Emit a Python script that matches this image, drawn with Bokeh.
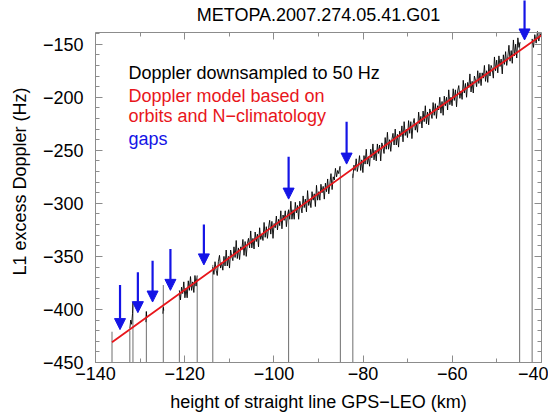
import numpy as np
from bokeh.plotting import figure
from bokeh.models import (ColumnDataSource, Range1d, LinearAxis, SingleIntervalTicker,
                          Arrow, NormalHead, Label, CustomJSTickFormatter,
                          CustomLabelingPolicy)
from bokeh.embed import file_html
from bokeh.resources import INLINE

# ---------------- data ----------------
title_text = "METOPA.2007.274.05.41.G01"

# Doppler downsampled to 50 Hz: separate pieces between gaps
frag1_x = [-132.3, -132.1, -131.9, -131.7, -131.6]
frag1_y = [-418, -410, -414, -404, -393]
frag2_x = [-128.7, -128.6, -128.5]
frag2_y = [-412, -402, -408]
frag3_x = [-124.9, -124.8, -124.7]
frag3_y = [-404, -398, -401]
seg1_x = list(np.round(np.arange(-121.2, -117.15, 0.25), 2))
seg1_y = [-382, -391, -379, -385, -374, -389, -380, -389, -373, -382,
          -369, -382, -374, -384, -368, -378, -368]
seg2_x = list(np.round(np.arange(-113.7, -85.15, 0.25), 2))
seg2_y = [-360, -367, -355, -363, -368, -355, -349, -361, -356, -363,
          -350, -359, -344, -359, -350, -361, -344, -350, -354, -341,
          -351, -335, -352, -342, -353, -341, -344, -334, -349, -336,
          -350, -338, -333, -342, -326, -342, -333, -343, -327, -336,
          -329, -341, -323, -334, -329, -335, -318, -332, -322, -333,
          -323, -316, -329, -317, -333, -319, -323, -312, -325, -315,
          -321, -307, -324, -311, -316, -307, -322, -311, -306, -315,
          -298, -315, -306, -315, -299, -309, -302, -315, -298, -303,
          -309, -293, -304, -296, -308, -288, -302, -296, -304, -289,
          -297, -291, -303, -283, -297, -289, -297, -282, -290, -284,
          -296, -281, -289, -277, -291, -282, -272, -287, -275, -278,
          -267, -275, -269, -272, -265]
seg3_x = list(np.round(np.arange(-82.3, -44.75, 0.25), 2))
seg3_y = [-276, -264, -269, -258, -270, -264, -255, -269, -259, -271,
          -255, -263, -249, -263, -256, -265, -249, -257, -244, -259,
          -250, -260, -244, -253, -245, -260, -243, -247, -253, -238,
          -249, -233, -249, -240, -251, -240, -234, -245, -230, -245,
          -235, -247, -232, -237, -227, -242, -223, -236, -230, -238,
          -222, -234, -223, -239, -225, -220, -231, -225, -233, -214,
          -225, -218, -229, -213, -223, -208, -225, -214, -226, -211,
          -215, -220, -205, -217, -206, -220, -208, -212, -200, -215,
          -204, -217, -199, -208, -200, -212, -193, -207, -200, -208,
          -192, -203, -193, -209, -194, -189, -201, -194, -202, -184,
          -196, -187, -200, -186, -191, -178, -195, -185, -196, -180,
          -184, -190, -175, -187, -177, -189, -177, -182, -170, -185,
          -175, -186, -169, -180, -170, -173, -182, -162, -175, -165,
          -177, -161, -171, -164, -178, -160, -169, -157, -170, -162,
          -151, -166, -156, -168, -146, -161, -150, -163, -144, -153,
          -148]
seg4_x = [-42.1, -41.8, -41.5, -41.2, -40.9, -40.6, -40.3, -40.0]
seg4_y = [-145, -153, -141, -149, -138, -147, -140, -144]

# Doppler model based on orbits and N-climatology
model_x = [-136.3, -100.0, -76.1, -40.0]
model_y = [-431.0, -321.0, -248.5, -141.5]

# gap markers (vertical lines from the bottom of the axis)
gap_x = [-136.3, -132.3, -131.6, -128.6, -124.8, -121.2, -117.2, -113.7,
         -96.7, -85.1, -82.3, -44.9, -42.1]
gap_top = [-421, -420, -393, -402, -377, -385, -371, -358,
           -307, -265, -272, -149, -145]
axis_bottom = -450
frame_top = -139

# blue arrows pointing at gaps
arrow_x = [-134.5, -130.5, -127.2, -123.2, -115.7, -96.7, -83.7, -43.8]
arrow_top = [-377, -365, -354, -343, -320, -256, -223, -108]
arrow_tip = [-419, -403, -393, -382, -358, -296, -263, -146]

x_label = "height of straight line GPS\u2212LEO (km)"
y_label = "L1 excess Doppler (Hz)"
legend_lines = [("Doppler downsampled to 50 Hz", "black"),
                ("Doppler model based on", "#e8161b"),
                ("orbits and N\u2212climatology", "#e8161b"),
                ("gaps", "#1414e6")]

FONT = "Liberation Sans"
AXIS_GRAY = "#8c8c8c"

# ---------------- figure ----------------
# the frame reaches the top of the page so that the last arrow can poke above
# the drawn box; the box top is an axis fixed at y = frame_top
p = figure(width=548, height=418, output_backend="svg", toolbar_location=None,
           x_range=Range1d(-140, -40), y_range=Range1d(-450, -108.8),
           min_border_left=95, min_border_right=7, min_border_top=0,
           min_border_bottom=56)
p.background_fill_color = "white"
p.border_fill_color = "white"
p.outline_line_color = None
p.xgrid.visible = False
p.ygrid.visible = False

minus_fmt = CustomJSTickFormatter(
    code="return (tick < 0 ? '\\u2212' : '') + Math.abs(tick).toFixed(0);")

def style_axis(ax, show_labels=True):
    ax.axis_line_color = AXIS_GRAY
    ax.major_tick_line_color = AXIS_GRAY
    ax.minor_tick_line_color = AXIS_GRAY
    ax.major_tick_in = 7
    ax.major_tick_out = 0
    ax.minor_tick_in = 4
    ax.minor_tick_out = 0
    ax.major_label_text_font = FONT
    ax.major_label_text_font_size = "18px"
    ax.major_label_text_color = "black"
    ax.axis_label_text_font = FONT
    ax.axis_label_text_font_size = "18px"
    ax.axis_label_text_font_style = "normal"
    ax.axis_label_text_color = "black"
    if show_labels:
        ax.formatter = minus_fmt
    else:
        ax.major_label_policy = CustomLabelingPolicy(
            code="for (const i of []) { yield i }")
        ax.major_label_text_font_size = "0px"
        ax.major_label_standoff = 0

p.xaxis.ticker = SingleIntervalTicker(interval=20, num_minor_ticks=2)
p.yaxis.ticker = SingleIntervalTicker(interval=50, num_minor_ticks=5)
style_axis(p.xaxis[0])
style_axis(p.yaxis[0])
p.yaxis.bounds = (axis_bottom, frame_top)
p.xaxis.axis_label = x_label
p.yaxis.axis_label = y_label
p.xaxis.major_label_standoff = 4
p.yaxis.major_label_standoff = 12
p.xaxis.axis_label_standoff = 9
p.yaxis.axis_label_standoff = 10

top_ax = LinearAxis(ticker=SingleIntervalTicker(interval=20, num_minor_ticks=2),
                    fixed_location=frame_top)
style_axis(top_ax, show_labels=False)
p.add_layout(top_ax, "above")
right_ax = LinearAxis(ticker=SingleIntervalTicker(interval=50, num_minor_ticks=5),
                      bounds=(axis_bottom, frame_top))
style_axis(right_ax, show_labels=False)
p.add_layout(right_ax, "right")

# gap lines
p.segment(x0=gap_x, y0=[axis_bottom] * len(gap_x), x1=gap_x, y1=gap_top,
          line_color="#6e6e6e", line_width=1)

# measured Doppler
xs = [frag1_x, frag2_x, frag3_x, seg1_x, seg2_x, seg3_x, seg4_x]
ys = [frag1_y, frag2_y, frag3_y, seg1_y, seg2_y, seg3_y, seg4_y]
p.multi_line(xs=xs, ys=ys, line_color="black", line_width=0.9)

# model
p.line(model_x, model_y, line_color="#e8161b", line_width=1.8)

# arrows
asrc = ColumnDataSource(dict(x0=arrow_x, y0=arrow_top, x1=arrow_x, y1=arrow_tip))
p.add_layout(Arrow(source=asrc, x_start="x0", y_start="y0", x_end="x1", y_end="y1",
                   line_color="#1414e6", line_width=2.2,
                   end=NormalHead(size=11, fill_color="#1414e6", line_color="#1414e6")))

# title (drawn as a label above the box)
p.add_layout(Label(x=-90, y=-122.6, text=title_text, text_align="center",
                   text_baseline="alphabetic", text_font=FONT,
                   text_font_size="18px", text_color="black"))

# legend text
legend_y = [-177.5, -198.5, -218, -239]
for (txt, col), yy in zip(legend_lines, legend_y):
    p.add_layout(Label(x=-132.6, y=yy, text=txt, text_color=col,
                       text_font=FONT, text_font_size="18px",
                       text_baseline="alphabetic"))

open("out.html", "w").write(file_html(p, INLINE))
